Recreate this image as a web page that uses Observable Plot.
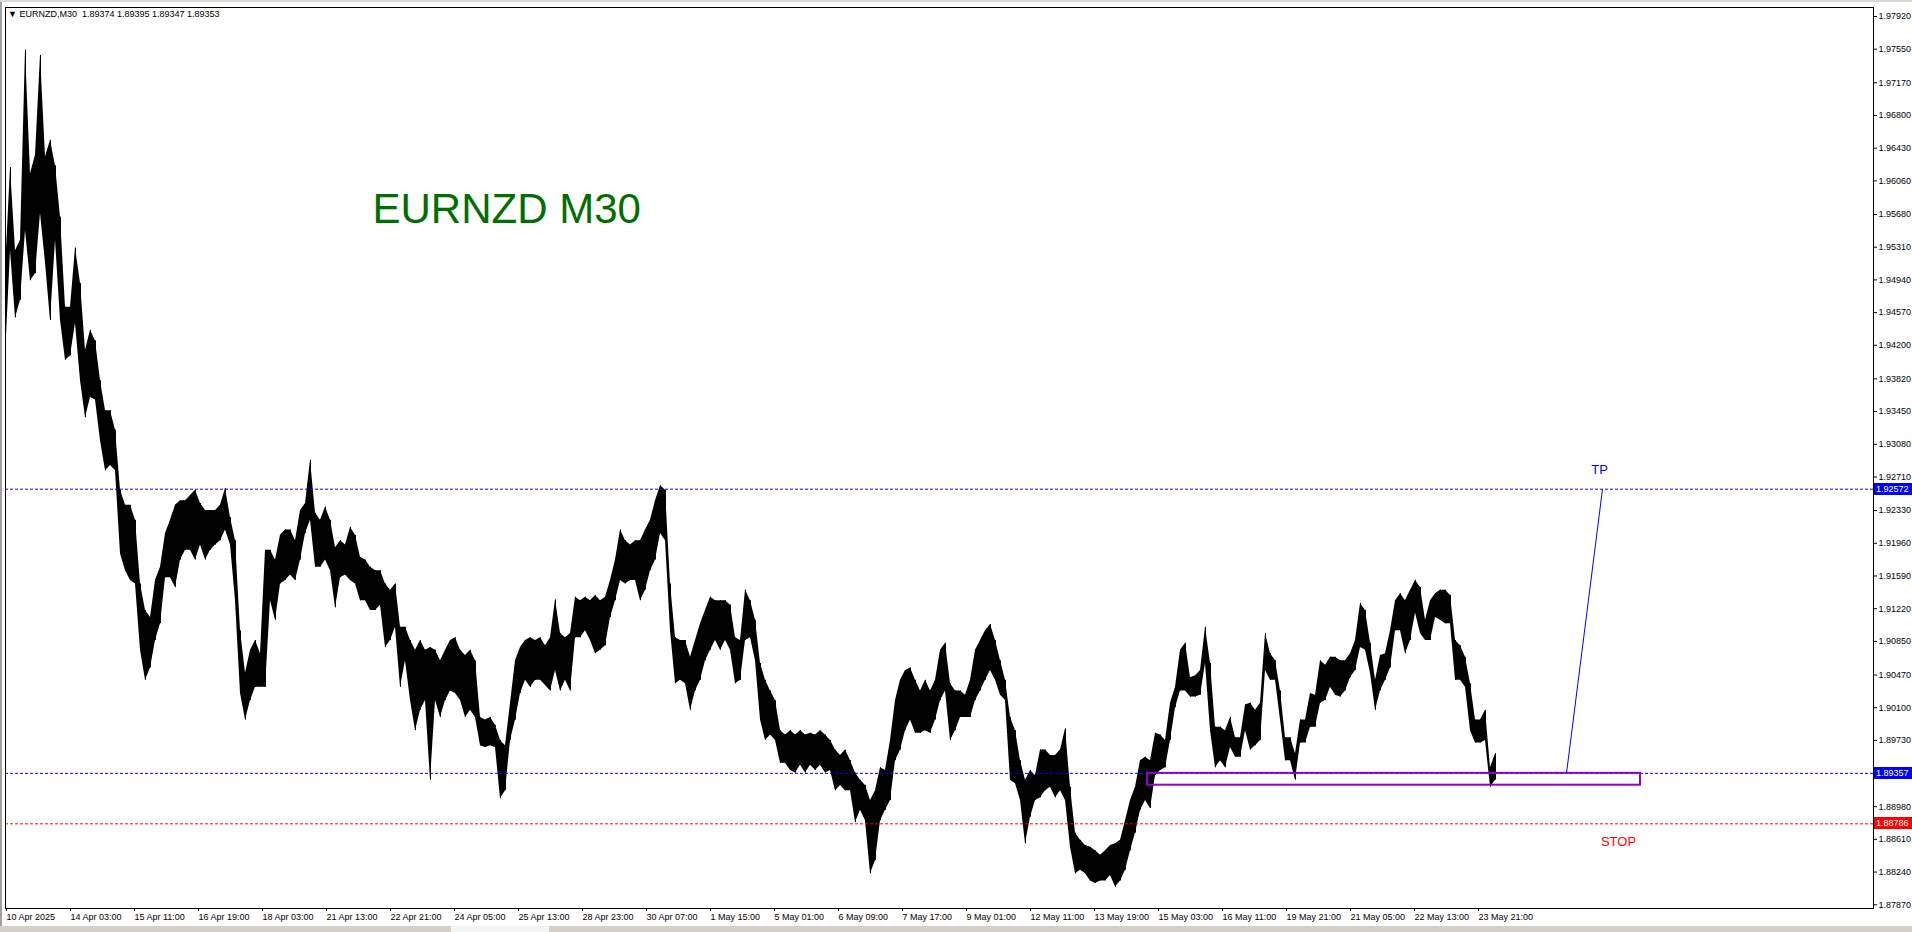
<!DOCTYPE html>
<html>
<head>
<meta charset="utf-8">
<script src="https://cdn.jsdelivr.net/npm/d3@7"></script>
<script src="https://cdn.jsdelivr.net/npm/@observablehq/plot@0.6"></script>
<style>
  html, body { margin: 0; padding: 0; background: #fff; overflow: hidden; }
  #wrap { position: relative; width: 1912px; height: 932px; font-family: "Liberation Sans", Arial, sans-serif; }
  .box { position: absolute; color: #fff; font-size: 9px; line-height: 12px; height: 12px; padding-left: 2px; box-sizing: border-box; }
  .chrome { position: absolute; }
</style>
</head>
<body>
<div id="wrap"></div>
<script>
// ---- data (EURNZD M30, grouped 5 bars per entry: high / low of each group) ----
const groupSize = 5;
const hi = [1.9505,1.9621,1.9527,1.9539,1.9754,1.9614,1.9635,1.9748,1.9633,1.9652,
1.9623,1.9565,1.9463,1.9463,1.9530,1.9490,1.9414,1.9437,1.9425,1.9380,
1.9346,1.9346,1.9324,1.9256,1.9239,1.9239,1.9222,1.9150,1.9120,1.9112,
1.9154,1.9169,1.9207,1.9222,1.9239,1.9244,1.9244,1.9250,1.9256,1.9241,
1.9233,1.9233,1.9233,1.9239,1.9258,1.9225,1.9199,1.9097,1.9049,1.9075,
1.9086,1.9071,1.9188,1.9188,1.9177,1.9205,1.9211,1.9211,1.9199,1.9233,
1.9241,1.9290,1.9230,1.9222,1.9237,1.9222,1.9191,1.9199,1.9194,1.9214,
1.9205,1.9180,1.9177,1.9169,1.9165,1.9165,1.9150,1.9143,1.9150,1.9101,
1.9101,1.9086,1.9075,1.9086,1.9075,1.9078,1.9075,1.9063,1.9075,1.9086,
1.9089,1.9075,1.9069,1.9075,1.9063,1.8999,1.8996,1.8999,1.8990,1.8973,
1.8967,1.9015,1.9063,1.9078,1.9086,1.9089,1.9086,1.9089,1.9080,1.9089,
1.9132,1.9094,1.9089,1.9094,1.9135,1.9131,1.9135,1.9131,1.9137,1.9131,
1.9135,1.9154,1.9177,1.9211,1.9199,1.9194,1.9199,1.9199,1.9211,1.9222,
1.9244,1.9261,1.9256,1.9150,1.9089,1.9086,1.9086,1.9067,1.9086,1.9105,
1.9120,1.9135,1.9131,1.9131,1.9131,1.9126,1.9089,1.9086,1.9143,1.9131,
1.9109,1.9060,1.9041,1.9029,1.9018,1.8984,1.8979,1.8984,1.8979,1.8984,
1.8979,1.8981,1.8979,1.8984,1.8979,1.8973,1.8962,1.8956,1.8962,1.8950,
1.8936,1.8928,1.8922,1.8905,1.8916,1.8942,1.8939,1.8973,1.9018,1.9041,
1.9052,1.9055,1.9041,1.9029,1.9041,1.9029,1.9041,1.9075,1.9083,1.9037,
1.9029,1.9029,1.9024,1.9041,1.9075,1.9086,1.9097,1.9104,1.9086,1.9063,
1.9041,1.8999,1.8984,1.8950,1.8928,1.8939,1.8933,1.8962,1.8962,1.8956,
1.8956,1.8962,1.8986,1.8920,1.8868,1.8860,1.8854,1.8852,1.8848,1.8843,
1.8848,1.8854,1.8856,1.8860,1.8882,1.8905,1.8920,1.8950,1.8954,1.8950,
1.8981,1.8979,1.8973,1.9015,1.9033,1.9075,1.9083,1.9044,1.9046,1.9052,
1.9101,1.9060,1.8988,1.8988,1.8984,1.8999,1.8976,1.8976,1.9013,1.9015,
1.9007,1.9015,1.9094,1.9071,1.9063,1.9029,1.8976,1.8976,1.8958,1.8996,
1.8996,1.9026,1.9024,1.9063,1.9058,1.9067,1.9067,1.9063,1.9063,1.9071,
1.9086,1.9128,1.9120,1.9083,1.9041,1.9069,1.9071,1.9097,1.9131,1.9139,
1.9131,1.9143,1.9154,1.9146,1.9109,1.9131,1.9139,1.9143,1.9143,1.9137,
1.9086,1.9080,1.9067,1.9037,1.8996,1.8996,1.9007,1.8942,1.8958];
const lo = [1.9406,1.9527,1.9451,1.9471,1.9550,1.9493,1.9501,1.9569,1.9513,1.9448,
1.9539,1.9448,1.9403,1.9408,1.9445,1.9380,1.9338,1.9361,1.9358,1.9312,
1.9278,1.9284,1.9278,1.9184,1.9165,1.9154,1.9150,1.9075,1.9041,1.9055,
1.9086,1.9105,1.9157,1.9157,1.9146,1.9177,1.9188,1.9188,1.9177,1.9194,
1.9177,1.9188,1.9194,1.9199,1.9211,1.9194,1.9131,1.9026,1.8996,1.9018,
1.9033,1.9033,1.9033,1.9131,1.9109,1.9150,1.9154,1.9160,1.9154,1.9177,
1.9207,1.9222,1.9169,1.9169,1.9177,1.9165,1.9123,1.9157,1.9160,1.9154,
1.9150,1.9131,1.9131,1.9120,1.9120,1.9126,1.9078,1.9086,1.9101,1.9033,
1.9063,1.9018,1.8984,1.9007,1.9018,1.8928,1.9018,1.8999,1.9018,1.9029,
1.9026,1.9018,1.8999,1.9007,1.8999,1.8967,1.8965,1.8967,1.8965,1.8907,
1.8916,1.8973,1.8996,1.9026,1.9041,1.9033,1.9041,1.9041,1.9035,1.9029,
1.9052,1.9029,1.9041,1.9029,1.9089,1.9089,1.9097,1.9086,1.9071,1.9075,
1.9080,1.9112,1.9131,1.9154,1.9150,1.9154,1.9154,1.9131,1.9143,1.9165,
1.9177,1.9207,1.9199,1.9097,1.9037,1.9041,1.9037,1.9007,1.9029,1.9041,
1.9063,1.9075,1.9086,1.9075,1.9086,1.9075,1.9037,1.9041,1.9086,1.9089,
1.9063,1.8996,1.8973,1.8979,1.8973,1.8947,1.8947,1.8939,1.8936,1.8945,
1.8936,1.8945,1.8939,1.8945,1.8936,1.8939,1.8916,1.8922,1.8916,1.8916,
1.8880,1.8894,1.8882,1.8822,1.8837,1.8882,1.8894,1.8905,1.8950,1.8962,
1.8984,1.8996,1.8981,1.8981,1.8984,1.8981,1.8996,1.9018,1.9029,1.8973,
1.8984,1.8999,1.8999,1.8999,1.9018,1.9029,1.9041,1.9052,1.9041,1.9024,
1.9018,1.8928,1.8924,1.8905,1.8856,1.8886,1.8905,1.8908,1.8916,1.8920,
1.8908,1.8916,1.8905,1.8852,1.8822,1.8826,1.8822,1.8814,1.8811,1.8814,
1.8814,1.8820,1.8807,1.8814,1.8826,1.8848,1.8868,1.8894,1.8905,1.8896,
1.8933,1.8939,1.8942,1.8973,1.9010,1.9029,1.9029,1.9022,1.9022,1.9024,
1.9060,1.8984,1.8942,1.8950,1.8942,1.8965,1.8954,1.8954,1.8984,1.8962,
1.8967,1.8973,1.9052,1.9041,1.9041,1.8996,1.8950,1.8950,1.8928,1.8970,
1.8970,1.8988,1.8988,1.9015,1.9018,1.9033,1.9024,1.9022,1.9029,1.9044,
1.9052,1.9078,1.9075,1.9049,1.9007,1.9029,1.9041,1.9055,1.9097,1.9097,
1.9071,1.9086,1.9117,1.9094,1.9086,1.9086,1.9112,1.9109,1.9105,1.9105,
1.9041,1.9041,1.9033,1.8984,1.8970,1.8970,1.8973,1.8920,1.8928];

// time-axis labels (every 64 M30 bars)
const timeLabels = ["10 Apr 2025","14 Apr 03:00","15 Apr 11:00","16 Apr 19:00","18 Apr 03:00","21 Apr 13:00",
  "22 Apr 21:00","24 Apr 05:00","25 Apr 13:00","28 Apr 23:00","30 Apr 07:00","1 May 15:00","5 May 01:00",
  "6 May 09:00","7 May 17:00","9 May 01:00","12 May 11:00","13 May 19:00","15 May 03:00","16 May 11:00",
  "19 May 21:00","21 May 05:00","22 May 13:00","23 May 21:00"];
const barsPerLabel = 64;
// price-axis labels
const priceTicks = [1.97920,1.97550,1.97170,1.96800,1.96430,1.96060,1.95680,1.95310,1.94940,1.94570,
  1.94200,1.93820,1.93450,1.93080,1.92710,1.92330,1.91960,1.91590,1.91220,1.90850,1.90470,1.90100,
  1.89730,1.89350,1.88980,1.88610,1.88240,1.87870];

// levels and drawn objects
const tpLevel = 1.92572;
const entryLevel = 1.89357;
const stopLevel = 1.88786;
const zone = {x1: 1142, x2: 1635, top: 1.89357, bottom: 1.89223};
const tpArrow = {x1: 1561, y1: 1.89357, x2: 1597, y2: 1.92572};
const tpLabel = {x: 1594, y: 1.92795, text: "TP"};
const stopLabel = {x: 1613, y: 1.88586, text: "STOP"};
const chartTitle = {x: 367, y: 1.95589, text: "EURNZD M30"};
const header = "EURNZD,M30  1.89374 1.89395 1.89347 1.89353";

const rows = hi.map((h, i) => ({bar: i * groupSize, hi: h, lo: lo[i]}));
const tickBars = timeLabels.map((_, i) => i * barsPerLabel);
const labelOf = new Map(tickBars.map((b, i) => [b, timeLabels[i]]));

const chart = Plot.plot({
  width: 1912,
  height: 932,
  marginLeft: 5,
  marginRight: 39,
  marginTop: 7,
  marginBottom: 24,
  x: {domain: [0, 1868]},
  y: {domain: [1.87828, 1.98022]},
  style: {fontFamily: "'Liberation Sans', Arial, sans-serif", fontSize: "9px", background: "transparent", color: "black", overflow: "visible"},
  marks: [
    Plot.areaY(rows, {x: "bar", y1: "lo", y2: "hi", fill: "black", curve: "linear"}),
    Plot.ruleX(rows, {x: "bar", y1: "lo", y2: "hi", stroke: "black", strokeWidth: 1}),
    Plot.ruleY([tpLevel, entryLevel], {stroke: "#0000ff", strokeWidth: 1, strokeDasharray: "3,2"}),
    Plot.ruleY([stopLevel], {stroke: "#ff0000", strokeWidth: 1, strokeDasharray: "3,2"}),
    Plot.rect([zone], {x1: "x1", x2: "x2", y1: "bottom", y2: "top", fill: "none", stroke: "#9400d3", strokeWidth: 2}),
    Plot.link([tpArrow], {x1: "x1", y1: "y1", x2: "x2", y2: "y2", stroke: "#0000ff", strokeWidth: 1}),
    Plot.text([tpLabel], {x: "x", y: "y", text: "text", fill: "#0000ff", fontSize: 13, textAnchor: "middle"}),
    Plot.text([stopLabel], {x: "x", y: "y", text: "text", fill: "#ff0000", fontSize: 13, textAnchor: "middle"}),
    Plot.text([chartTitle], {x: "x", y: "y", text: "text", fill: "#006e00", fontSize: 42, textAnchor: "start", lineAnchor: "bottom"}),
    Plot.frame({stroke: "black", strokeWidth: 1}),
    Plot.axisX(tickBars, {anchor: "bottom", tickSize: 3, tickPadding: 2, textAnchor: "start", dx: 1, fontSize: 9, tickFormat: d => labelOf.get(d)}),
    Plot.axisY(priceTicks, {anchor: "right", tickSize: 3, tickPadding: 2, fontSize: 9, tickFormat: d => d.toFixed(5)})
  ]
});

const wrap = document.getElementById("wrap");

// window chrome (left edge, top strip, bottom tab bar)
function chrome(css) { const d = document.createElement("div"); d.className = "chrome"; d.style.cssText += css; wrap.appendChild(d); }
chrome("left:0;top:0;width:2px;height:932px;background:#a0a0a0;");
chrome("left:0;top:0;width:1912px;height:2px;background:#d8d8d8;");
chrome("left:0;top:926px;width:1912px;height:6px;background:#d4d0c8;");
chrome("left:451px;top:926px;width:98px;height:6px;background:#f4f4f4;");

wrap.appendChild(chart);
chart.style.position = "absolute";
chart.style.left = "0px";
chart.style.top = "0px";

// header line
const hd = document.createElement("div");
hd.style.cssText = "position:absolute;left:8px;top:9px;font-size:9px;line-height:11px;white-space:pre;color:#000;";
hd.textContent = "\u25BC " + header;
wrap.appendChild(hd);

// price boxes on the price scale
const ys = chart.scale("y");
[[tpLevel, "#0000ff"], [entryLevel, "#0000ff"], [stopLevel, "#ff0000"]].forEach(([p, c]) => {
  const b = document.createElement("div");
  b.className = "box";
  b.style.left = "1874px";
  b.style.width = "38px";
  b.style.top = (ys.apply(p) - 6) + "px";
  b.style.background = c;
  b.textContent = p.toFixed(5);
  wrap.appendChild(b);
});
</script>
</body>
</html>
